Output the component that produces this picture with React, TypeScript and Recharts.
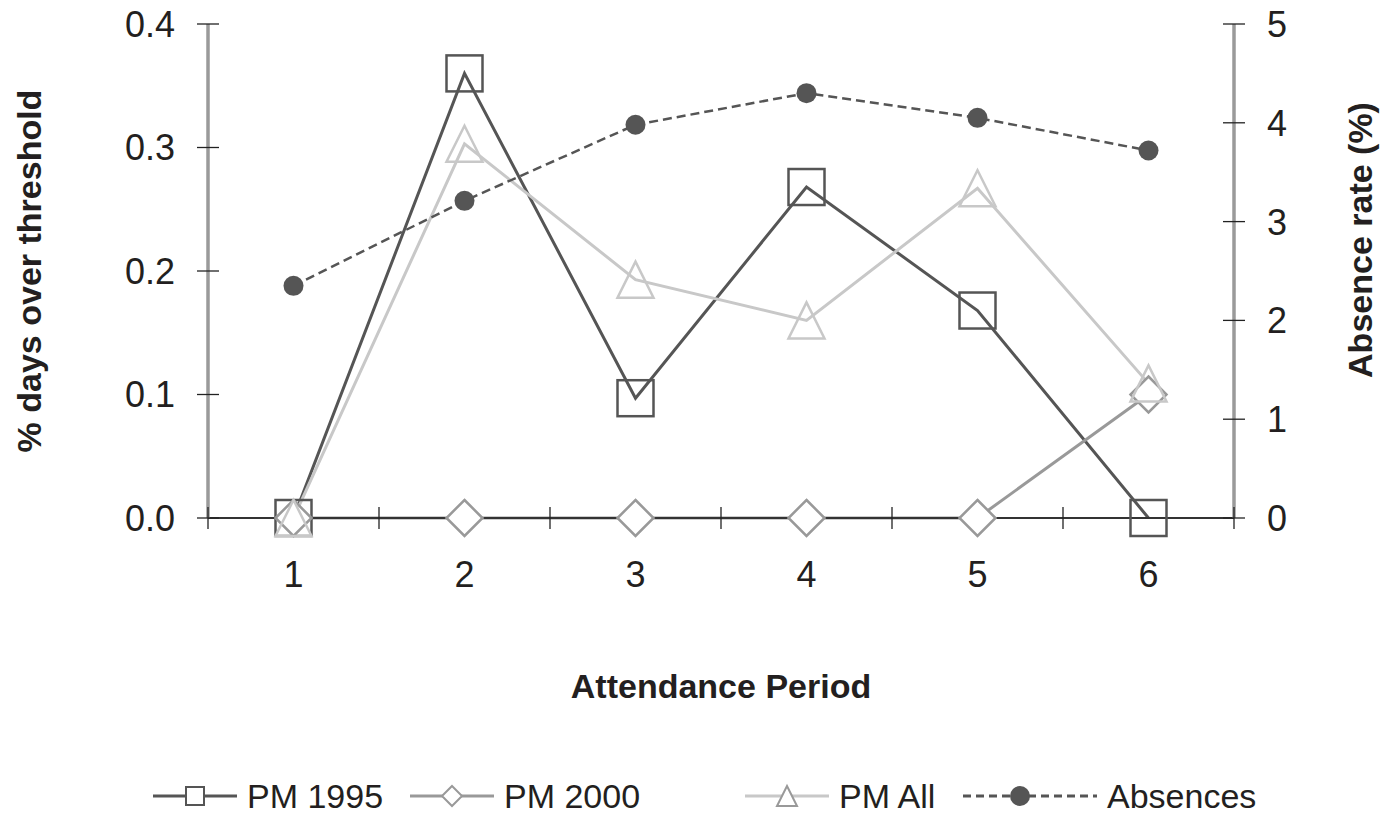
import React from 'react';
import { ComposedChart, Line, XAxis, YAxis } from 'recharts';

const periods = ['1', '2', '3', '4', '5', '6'];
const pm1995 = [0, 0.36, 0.097, 0.268, 0.168, 0];
const pm2000 = [0, 0, 0, 0, 0, 0.1];
const pmAll = [0, 0.303, 0.193, 0.16, 0.267, 0.109];
const absences = [2.35, 3.21, 3.98, 4.3, 4.05, 3.72];
const leftTicks = [0, 0.1, 0.2, 0.3, 0.4];
const rightTicks = [0, 1, 2, 3, 4, 5];

const data = periods.map((p, i) => ({
  period: p,
  pm1995: pm1995[i],
  pm2000: pm2000[i],
  pmAll: pmAll[i],
  absences: absences[i],
}));

const FONT = '"Liberation Sans", Arial, Helvetica, sans-serif';
const TXT = '#231f20';
const FS = 36;
const TFS = 34;
const LFS = 34;
const FRAME = '#9a9a9a';
const SHIFT = 14;

const C1995 = '#555555';
const C2000 = '#999999';
const CALL = '#c8c8c8';
const CABS = '#555555';

const SquareDot = (props: any) => {
  const { cx, cy } = props;
  if (cx == null || cy == null) return null;
  const s = 18;
  return <rect x={cx - s} y={cy - s} width={2 * s} height={2 * s} fill="none" stroke={C1995} strokeWidth={2.5} />;
};
const DiamondDot = (props: any) => {
  const { cx, cy } = props;
  if (cx == null || cy == null) return null;
  const s = 18;
  return (
    <polygon
      points={`${cx},${cy - s} ${cx + s},${cy} ${cx},${cy + s} ${cx - s},${cy}`}
      fill="#ffffff"
      stroke={C2000}
      strokeWidth={2.5}
    />
  );
};
const TriangleDot = (props: any) => {
  const { cx, cy } = props;
  if (cx == null || cy == null) return null;
  const s = 18;
  return (
    <polygon
      points={`${cx},${cy - s} ${cx + s},${cy + s} ${cx - s},${cy + s}`}
      fill="none"
      stroke={CALL}
      strokeWidth={2.5}
    />
  );
};
const CircleDot = (props: any) => {
  const { cx, cy } = props;
  if (cx == null || cy == null) return null;
  return <circle cx={cx} cy={cy} r={10} fill={CABS} stroke="none" />;
};

const LeftTick = (props: any) => {
  const { x, y, payload } = props;
  return (
    <g>
      <line x1={x - 11} x2={x + 11} y1={y} y2={y} stroke="#222" strokeWidth={1.3} />
      <text x={x - 33} y={y} dy="0.36em" textAnchor="end" fontSize={FS} fontFamily={FONT} fill={TXT}>
        {Number(payload.value).toFixed(1)}
      </text>
    </g>
  );
};
const RightTick = (props: any) => {
  const { x, y, payload } = props;
  return (
    <g>
      <line x1={x - 11} x2={x + 11} y1={y} y2={y} stroke="#222" strokeWidth={1.3} />
      <text x={x + 33} y={y} dy="0.36em" textAnchor="start" fontSize={FS} fontFamily={FONT} fill={TXT}>
        {payload.value}
      </text>
    </g>
  );
};
const BottomTick = (props: any) => {
  const { x, y, payload, index, visibleTicksCount, width } = props;
  const half = payload && payload.offset ? payload.offset : width / (visibleTicksCount || 6) / 2;
  const isLast = index === (visibleTicksCount || 6) - 1;
  return (
    <g>
      <line x1={x - half} x2={x - half} y1={y - 11} y2={y + 11} stroke="#222" strokeWidth={1.3} />
      {isLast && <line x1={x + half} x2={x + half} y1={y - 11} y2={y + 11} stroke="#222" strokeWidth={1.3} />}
      <text x={x} y={y + 56} dy="0.36em" textAnchor="middle" fontSize={FS} fontFamily={FONT} fill={TXT}>
        {payload.value}
      </text>
    </g>
  );
};

const LegendIcon = ({ kind }: { kind: string }) => {
  const w = 84;
  const h = 40;
  const cx = w / 2;
  const cy = h / 2;
  if (kind === 'pm1995')
    return (
      <svg width={w} height={h}>
        <line x1={0} x2={w} y1={cy} y2={cy} stroke={C1995} strokeWidth={3} />
        <rect x={cx - 9} y={cy - 9} width={18} height={18} fill="#fff" stroke={C1995} strokeWidth={2} />
      </svg>
    );
  if (kind === 'pm2000')
    return (
      <svg width={w} height={h}>
        <line x1={0} x2={w} y1={cy} y2={cy} stroke={C2000} strokeWidth={3} />
        <polygon points={`${cx},${cy - 10} ${cx + 10},${cy} ${cx},${cy + 10} ${cx - 10},${cy}`} fill="#fff" stroke={C2000} strokeWidth={2} />
      </svg>
    );
  if (kind === 'pmAll')
    return (
      <svg width={w} height={h}>
        <line x1={0} x2={w} y1={cy} y2={cy} stroke={CALL} strokeWidth={3} />
        <polygon points={`${cx},${cy - 10} ${cx + 10},${cy + 10} ${cx - 10},${cy + 10}`} fill="#fff" stroke={C2000} strokeWidth={2} />
      </svg>
    );
  return (
    <svg width={w + 50} height={h}>
      <line x1={0} x2={w + 50} y1={cy} y2={cy} stroke={CABS} strokeWidth={3} strokeDasharray="8 5" />
      <circle cx={(w + 50) / 2 - 10} cy={cy} r={10} fill={CABS} />
    </svg>
  );
};

const legendItems = [
  { kind: 'pm1995', label: 'PM 1995', left: 145 },
  { kind: 'pm2000', label: 'PM 2000', left: 402 },
  { kind: 'pmAll', label: 'PM All', left: 737 },
  { kind: 'absences', label: 'Absences', left: 955 },
];

export default function App() {
  const W = 1383;
  const H = 805 + SHIFT;
  return (
    <div style={{ position: 'relative', width: W, height: H, marginTop: -SHIFT, fontFamily: FONT }}>
      <ComposedChart width={W} height={H} data={data} margin={{ top: 16 + SHIFT, right: 0, bottom: 0, left: 0 }}>
        <XAxis
          xAxisId="top"
          dataKey="period"
          orientation="top"
          scale="band"
          height={0}
          tick={false}
          tickLine={false}
          axisLine={{ stroke: FRAME, strokeWidth: 3.5 }}
        />
        <XAxis
          xAxisId="cat"
          dataKey="period"
          scale="band"
          height={295}
          tickSize={0}
          tickMargin={0}
          tickLine={false}
          axisLine={{ stroke: '#333', strokeWidth: 2 }}
          tick={<BottomTick />}
          interval={0}
          label={{
            content: (p: any) => {
              const vb = p.viewBox;
              return (
                <text x={vb.x + vb.width / 2} y={vb.y + 168} dy="0.36em" textAnchor="middle" fontSize={TFS} fontWeight="bold" fontFamily={FONT} fill={TXT}>
                  Attendance Period
                </text>
              );
            },
          }}
        />
        <YAxis
          yAxisId="left"
          width={200}
          domain={[0, 0.4]}
          ticks={leftTicks}
          tickSize={0}
          tickMargin={0}
          tickLine={false}
          axisLine={{ stroke: FRAME, strokeWidth: 3.5 }}
          tick={<LeftTick />}
          interval={0}
          label={{
            content: (p: any) => {
              const vb = p.viewBox;
              const cx = vb.x + 21;
              const cy = vb.y + vb.height / 2;
              return (
                <text x={cx} y={cy} dy="0.36em" transform={`rotate(-90, ${cx}, ${cy})`} textAnchor="middle" fontSize={TFS} fontWeight="bold" fontFamily={FONT} fill={TXT}>
                  % days over threshold
                </text>
              );
            },
          }}
        />
        <YAxis
          yAxisId="right"
          orientation="right"
          width={157}
          domain={[0, 5]}
          ticks={rightTicks}
          tickSize={0}
          tickMargin={0}
          tickLine={false}
          axisLine={{ stroke: FRAME, strokeWidth: 3.5 }}
          tick={<RightTick />}
          interval={0}
          label={{
            content: (p: any) => {
              const vb = p.viewBox;
              const cx = vb.x + 126;
              const cy = vb.y + vb.height / 2 - 31;
              return (
                <text x={cx} y={cy} dy="0.36em" transform={`rotate(-90, ${cx}, ${cy})`} textAnchor="middle" fontSize={TFS} fontWeight="bold" fontFamily={FONT} fill={TXT}>
                  Absence rate (%)
                </text>
              );
            },
          }}
        />
        <Line xAxisId="cat" yAxisId="left" dataKey="pm1995" stroke={C1995} strokeWidth={3} dot={<SquareDot />} activeDot={false} isAnimationActive={false} />
        <Line xAxisId="cat" yAxisId="left" dataKey="pm2000" stroke={C2000} strokeWidth={3} dot={<DiamondDot />} activeDot={false} isAnimationActive={false} />
        <Line xAxisId="cat" yAxisId="left" dataKey="pmAll" stroke={CALL} strokeWidth={3} dot={<TriangleDot />} activeDot={false} isAnimationActive={false} />
        <Line xAxisId="cat" yAxisId="right" dataKey="absences" stroke={CABS} strokeWidth={2.5} strokeDasharray="9 5" dot={<CircleDot />} activeDot={false} isAnimationActive={false} />
      </ComposedChart>
      {legendItems.map((it) => (
        <div
          key={it.kind}
          style={{ position: 'absolute', left: it.left, top: 768 + SHIFT, height: 40, display: 'flex', alignItems: 'center', whiteSpace: 'nowrap' }}
        >
          <LegendIcon kind={it.kind} />
          <span style={{ fontSize: LFS, color: TXT, marginLeft: 10, lineHeight: '40px' }}>{it.label}</span>
        </div>
      ))}
    </div>
  );
}
